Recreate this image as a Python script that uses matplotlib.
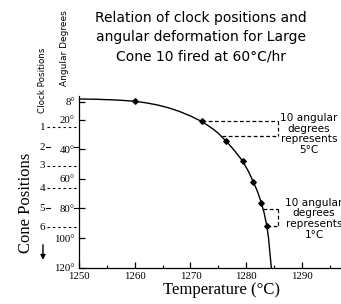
import matplotlib
matplotlib.use("Agg")
import matplotlib.pyplot as plt

# curve (temperature, angular degrees)
curve_temp = [1250, 1253, 1256, 1258, 1260, 1262, 1264, 1266, 1268, 1270, 1272,
              1273, 1274, 1275, 1276.3, 1277, 1278, 1279.4, 1280.4, 1281.3,
              1282, 1282.7, 1283.2, 1283.7, 1284.0, 1284.25, 1284.5]
curve_deg = [6.0, 6.2, 6.6, 7.0, 7.6, 8.6, 10.0, 11.9, 14.4, 17.5, 21.2,
             23.6, 26.2, 29.2, 34.2, 37.0, 41.4, 48.2, 55.0, 62.2,
             68.4, 76.0, 82.8, 91.8, 100.0, 110.0, 120.0]

# measured points
pt_temp = [1260, 1272, 1276.3, 1279.4, 1281.3, 1282.7, 1283.7]
pt_deg = [7.6, 21.2, 34.2, 48.2, 62.2, 76.0, 91.8]

deg_ticks = [8, 20, 40, 60, 80, 100, 120]
deg_labels = ["8°", "20°", "40°", "60°", "80°", "100°", "120°"]
temp_ticks = [1250, 1260, 1270, 1280, 1290]

cone_names = ["1", "2", "3", "4", "5", "6"]
cone_deg = [25.2, 38.7, 51.1, 66.3, 79.8, 92.6]

# dashed boxes: (temp on curve top, deg top, temp on curve bottom, deg bottom, right temp)
box1 = (1272, 21.2, 1275.6, 31.3, 1285.75)
box2 = (1283.06, 80.3, 1283.67, 91.6, 1285.75)

fig = plt.figure(figsize=(3.41, 3.04), dpi=100)
ax = fig.add_axes([0.2317, 0.1194, 0.7683, 0.5648])

ax.plot(curve_temp, curve_deg, color="black", lw=1.0)
ax.plot(pt_temp, pt_deg, ls="none", marker="D", ms=2.8, color="black")

for b in [box1, box2]:
    t1, d1, t2, d2, tr = b
    ax.plot([t1, tr], [d1, d1], color="black", lw=0.9, ls=(0, (3, 2)))
    ax.plot([t2, tr], [d2, d2], color="black", lw=0.9, ls=(0, (3, 2)))
    ax.plot([tr, tr], [d1, d2], color="black", lw=0.9, ls=(0, (3, 2)))

ax.set_xlim(1250, 1297)
ax.set_ylim(120, 4)
ax.set_xticks(temp_ticks)
ax.set_xticks([1255, 1265, 1275, 1285, 1295], minor=True)
ax.set_yticks(deg_ticks)
ax.set_yticklabels(deg_labels)
ax.tick_params(axis="both", direction="in", length=4, width=0.9, pad=3, labelsize=7.8)
ax.tick_params(axis="x", which="minor", direction="in", length=2.5, width=0.8)
for lab in ax.get_xticklabels() + ax.get_yticklabels():
    lab.set_family("Liberation Serif")
ax.spines["top"].set_visible(False)
ax.spines["right"].set_visible(False)
ax.spines["left"].set_linewidth(0.9)
ax.spines["bottom"].set_linewidth(0.9)

# cone position marks on the left
tr = ax.get_yaxis_transform()
for name, d in zip(cone_names, cone_deg):
    ax.text(-0.14, d, name, transform=tr, ha="center", va="center",
            fontsize=8, family="Liberation Serif", clip_on=False)
    if name in ["2", "5"]:
        ax.plot([-0.125, -0.11], [d, d], transform=tr, color="black", lw=0.8, clip_on=False)
        ax.plot([-0.02, -0.005], [d, d], transform=tr, color="black", lw=0.8, clip_on=False)
    else:
        ax.plot([-0.123, -0.005], [d, d], transform=tr, color="black", lw=0.8,
                ls=(0, (2.2, 2.6)), clip_on=False)

fig.text(0.59, 0.878, "Relation of clock positions and\nangular deformation for Large\nCone 10 fired at 60°C/hr",
         ha="center", va="center", fontsize=10, family="DejaVu Sans", linespacing=1.45)

fig.text(0.906, 0.559, "10 angular\ndegrees\nrepresents\n5°C", ha="center", va="center",
         fontsize=7.6, family="DejaVu Sans", linespacing=1.1)
fig.text(0.921, 0.28, "10 angular\ndegrees\nrepresents\n1°C", ha="center", va="center",
         fontsize=7.6, family="DejaVu Sans", linespacing=1.1)

fig.text(0.076, 0.332, "Cone Positions", rotation=90, ha="center", va="center",
         fontsize=12, family="Liberation Serif")
fig.text(0.65, 0.046, "Temperature (°C)", ha="center", va="center",
         fontsize=12, family="Liberation Serif")
fig.text(0.126, 0.737, "Clock Positions", rotation=90, ha="center", va="center",
         fontsize=6.3, family="DejaVu Sans")
fig.text(0.19, 0.842, "Angular Degrees", rotation=90, ha="center", va="center",
         fontsize=6.5, family="DejaVu Sans")

fig.add_artist(matplotlib.patches.FancyArrowPatch((0.126, 0.204), (0.126, 0.136),
               transform=fig.transFigure, arrowstyle="-|>", mutation_scale=7,
               color="black", lw=1.0))

fig.savefig("out.png", dpi=100)
